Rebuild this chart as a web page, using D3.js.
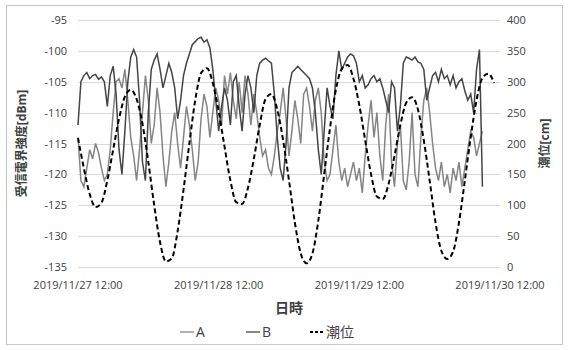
<!DOCTYPE html>
<html>
<head>
<meta charset="utf-8">
<script src="https://cdn.jsdelivr.net/npm/d3@7"></script>
<style>
  body { margin: 0; background: #fff; }
  svg text { font-family: "Open Sans", "Noto Sans CJK JP", sans-serif; fill: #404040; }
</style>
</head>
<body>
<div id="chart"></div>
<script>
// time axis labels
const tickLabels = ["2019/11/27 12:00", "2019/11/28 12:00", "2019/11/29 12:00", "2019/11/30 12:00"];
const tickDays = [27, 28, 29, 30];

// tide level [cm], one value per hour from 2019/11/27 12:00
const tideLevel = [209, 160, 118, 97, 104, 140, 190, 240, 276, 287, 272, 232, 170, 100, 40, 9, 14, 58, 125, 200,
  270, 314, 322, 298, 252, 195, 140, 105, 102, 128, 175, 230, 272, 280, 255, 205, 140, 72, 22, 6,
  22, 75, 150, 225, 287, 321, 327, 305, 262, 205, 150, 114, 110, 135, 180, 230, 266, 275, 255, 205,
  140, 72, 26, 13, 25, 72, 140, 210, 270, 306, 313, 298];

// received field strength [dBm], one value per 30 min from 2019/11/27 12:00
const signalA = [-114, -121, -122, -119, -116, -117.5, -115, -116.5, -119, -121,
  -120, -116, -110, -105, -104.5, -106, -103, -108, -114, -117,
  -121, -116, -110, -104, -108, -115, -112, -106, -110, -117,
  -122, -118, -113, -110, -115, -119, -114, -109, -112, -116,
  -121, -118, -111, -107, -109, -114, -110, -106, -108, -112,
  -104, -107, -103.5, -108, -111, -105, -110, -104, -107, -112,
  -107, -110, -114, -117, -116, -119, -120, -117, -113, -110,
  -106, -111, -117, -113, -108, -111, -115, -107, -106, -109,
  -113, -108, -106, -110, -118, -121, -120, -116, -112, -118,
  -121, -119, -122, -120, -118, -121, -119, -123, -117, -112,
  -108, -114, -110, -117, -121, -112, -107, -118, -122, -115,
  -112, -121, -122.5, -118, -110, -120, -122, -114, -108, -106,
  -110, -115, -119, -121, -118, -122, -120, -123, -119, -121,
  -118, -122, -119, -116, -113, -114, -117, -115, -113];

const signalB = [-112, -105, -104, -103.5, -104.5, -104, -103.8, -104.6, -104.2, -105,
  -109, -104, -102.5, -107, -116, -120, -113, -105, -101, -99.8,
  -101, -108, -118, -121, -110, -103, -101.5, -100.5, -103, -106,
  -104, -102, -103.5, -106, -111, -108, -104, -102, -100.5, -99,
  -98.5, -98, -97.8, -98.6, -98.2, -99.5, -103, -108, -113, -109,
  -106, -108, -112, -105, -104, -109, -113, -107, -104, -106,
  -110, -104, -102, -101.5, -101.2, -101.6, -102, -107, -114, -119,
  -121, -115, -106, -103.5, -103, -102.5, -103, -103.5, -104, -104.5,
  -106, -110, -116, -120, -113, -106, -109, -111, -104, -100,
  -103, -102, -101, -100.5, -100.8, -102, -105, -104, -106, -105.5,
  -104.5, -104, -105, -104.5, -106, -108, -110, -105, -106, -113,
  -109, -102, -101, -101.2, -101.5, -101, -101.8, -102, -103, -108,
  -106, -104, -103.5, -105, -103, -104.5, -104, -105.5, -104, -106,
  -105, -104.5, -106.5, -108, -107, -110, -103, -99.8, -122];

const leftTicks = [-135, -130, -125, -120, -115, -110, -105, -100, -95];
const rightTicks = [0, 50, 100, 150, 200, 250, 300, 350, 400];

const width = 568, height = 350;
const margin = {left: 78, right: 68, top: 20, bottom: 83};

const svg = d3.select("#chart").append("svg")
  .attr("width", width)
  .attr("height", height);

// outer frame
svg.append("rect")
  .attr("x", 6.5).attr("y", 5.5)
  .attr("width", 556).attr("height", 339)
  .attr("fill", "#fff")
  .attr("stroke", "#c8c8c8");

const t0 = new Date(2019, 10, 27, 12, 0);
const x = d3.scaleTime()
  .domain([t0, new Date(2019, 10, 30, 12, 0)])
  .range([margin.left, width - margin.right]);
const yLeft = d3.scaleLinear().domain([-135, -95]).range([height - margin.bottom, margin.top]);
const yRight = d3.scaleLinear().domain([0, 400]).range([height - margin.bottom, margin.top]);

// grid lines
svg.append("g").selectAll("line")
  .data(leftTicks)
  .join("line")
    .attr("x1", margin.left).attr("x2", width - margin.right)
    .attr("y1", d => Math.round(yLeft(d)) + 0.5)
    .attr("y2", d => Math.round(yLeft(d)) + 0.5)
    .attr("stroke", "#d9d9d9");

// left axis labels
svg.append("g").selectAll("text")
  .data(leftTicks)
  .join("text")
    .attr("x", 67)
    .attr("y", d => yLeft(d) + 4)
    .attr("text-anchor", "end")
    .style("font-size", "11px")
    .text(d => d);

// right axis labels
svg.append("g").selectAll("text")
  .data(rightTicks)
  .join("text")
    .attr("x", 507)
    .attr("y", d => yRight(d) + 4)
    .style("font-size", "11px")
    .text(d => d);

// x labels
svg.append("g").selectAll("text")
  .data(tickLabels)
  .join("text")
    .attr("x", (d, i) => x(new Date(2019, 10, tickDays[i], 12, 0)))
    .attr("y", 289)
    .attr("text-anchor", "middle")
    .style("font-size", "11px")
    .text(d => d);

// axis titles
svg.append("text")
  .attr("transform", "translate(26," + (yLeft(-115)) + ") rotate(-90)")
  .attr("text-anchor", "middle")
  .style("font-size", "12px")
  .style("font-weight", "bold")
  .text("受信電界強度[dBm]");

svg.append("text")
  .attr("transform", "translate(549," + (yRight(200)) + ") rotate(-90)")
  .attr("text-anchor", "middle")
  .style("font-size", "12px")
  .style("font-weight", "bold")
  .text("潮位[cm]");

svg.append("text")
  .attr("x", (margin.left + width - margin.right) / 2)
  .attr("y", 313)
  .attr("text-anchor", "middle")
  .style("font-size", "14px")
  .style("font-weight", "bold")
  .text("日時");

// series
const halfHour = i => d3.timeMinute.offset(t0, i * 30);
const hour = i => d3.timeHour.offset(t0, i);

const lineA = d3.line().x((d, i) => x(halfHour(i))).y(d => yLeft(d));
const lineTide = d3.line().x((d, i) => x(hour(i))).y(d => yRight(d)).curve(d3.curveMonotoneX);

const series = [
  {name: "A", data: signalA, color: "#858585", width: 1.5},
  {name: "B", data: signalB, color: "#454545", width: 1.5}
];

series.forEach(s => {
  svg.append("path")
    .datum(s.data)
    .attr("d", lineA)
    .attr("fill", "none")
    .attr("stroke", s.color)
    .attr("stroke-width", s.width);
});

svg.append("path")
  .datum(tideLevel)
  .attr("d", lineTide)
  .attr("fill", "none")
  .attr("stroke", "#000")
  .attr("stroke-width", 2)
  .attr("stroke-dasharray", "5,3");

// legend
const legendItems = [
  {name: "A", color: "#858585", dash: null, x: 180},
  {name: "B", color: "#454545", dash: null, x: 246},
  {name: "潮位", color: "#000", dash: "3,2", x: 310}
];
const lg = svg.append("g").selectAll("g")
  .data(legendItems)
  .join("g")
    .attr("transform", d => "translate(" + d.x + ",332)");
lg.append("line")
  .attr("x1", 0).attr("x2", 14)
  .attr("stroke", d => d.color)
  .attr("stroke-width", d => d.dash ? 2 : 1.3)
  .attr("stroke-dasharray", d => d.dash);
lg.append("text")
  .attr("x", 16).attr("y", 5)
  .style("font-size", "14px")
  .text(d => d.name);
</script>
</body>
</html>
